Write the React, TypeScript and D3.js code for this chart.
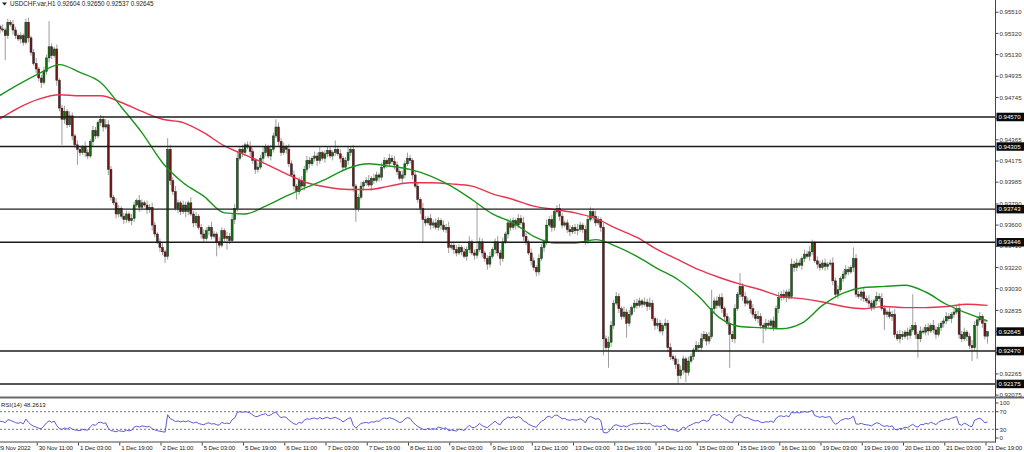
import React from "react";
import * as d3 from "d3";

// ---------- DATA (prices in pips above 0.9000, i.e. 538 -> 0.9538) ----------
const BASE = 0.9;
const firstOpenPips = 540;
const closePips = [
  538, 536, 535, 530, 542, 540, 535, 530, 527, 530,
  524, 542, 528, 515, 505, 500, 492, 488, 498, 510,
  520, 512, 518, 490, 465, 455, 462, 450, 458, 440,
  432, 428, 425, 430, 425, 422, 435, 445, 440, 452,
  455, 448, 450, 410, 385, 380, 370, 375, 368, 365,
  370, 364, 366, 378, 382, 376, 380, 378, 374, 376,
  360, 352, 345, 340, 336, 332, 428, 400, 390, 375,
  380, 372, 378, 372, 380, 370, 362, 368, 358, 352,
  348, 355, 358, 350, 352, 345, 342, 355, 348, 350,
  346, 365, 375, 420, 428, 425, 432, 430, 426, 418,
  410, 412, 420, 425, 430, 422, 428, 440, 448, 435,
  425, 430, 428, 415, 405, 395, 390, 400, 395, 410,
  418, 415, 420, 422, 418, 425, 420, 424, 427, 422,
  425, 428, 424, 420, 412, 418, 425, 428, 395, 375,
  385, 395, 398, 400, 396, 402, 400, 405, 403, 412,
  418, 415, 420, 417, 414, 408, 402, 405, 415, 420,
  418, 405, 395, 383, 375, 365, 362, 366, 360, 362,
  358, 364, 360, 356, 358, 340, 342, 338, 335, 340,
  336, 332, 338, 345, 335, 333, 338, 345, 335, 330,
  325, 332, 338, 345, 335, 330, 345, 352, 362, 358,
  364, 360, 366, 362, 350, 345, 335, 328, 322, 318,
  330, 340, 345, 360, 365, 358, 372, 375, 368, 360,
  362, 356, 354, 358, 355, 356, 360, 356, 346, 365,
  372, 368, 362, 365, 358, 258, 250, 255, 270, 290,
  296, 285, 278, 282, 272, 280, 286, 290, 288, 292,
  289, 291, 287, 290, 276, 270, 272, 265, 270, 272,
  250, 242, 240, 235, 225, 230, 240, 228, 238, 242,
  248, 252, 250, 258, 262, 256, 260, 285, 292, 288,
  295, 285, 278, 272, 262, 258, 285, 298, 305, 296,
  290, 292, 285, 280, 276, 278, 270, 268, 272, 270,
  274, 268, 285, 295, 298, 295, 300, 296, 325, 322,
  326, 324, 330, 334, 332, 336, 344, 328, 325, 322,
  326, 323, 325, 326, 310, 298, 302, 312, 316, 320,
  318, 322, 330, 298, 296, 300, 294, 292, 290, 286,
  292, 296, 294, 285, 280, 282, 278, 280, 262, 258,
  262, 260, 264, 261, 266, 270, 262, 258, 265, 264,
  268, 265, 270, 266, 262, 268, 272, 274, 278, 276,
  280, 282, 285, 262, 258, 264, 260, 252, 250, 270,
  275, 278, 272, 260.4, 264.5,
];
const wickUpPips = [
  3, 2, 4, 2, 3, 2, 4, 3, 2, 3,
  2, 3, 4, 2, 3, 5, 2, 3, 4, 3,
  23, 3, 2, 4, 2, 3, 5, 2, 4, 3,
  2, 4, 3, 2, 5, 3, 2, 4, 3, 2,
  4, 3, 5, 4, 3, 2, 4, 3, 2, 3,
  3, 2, 4, 3, 2, 5, 3, 2, 4, 3,
  4, 3, 2, 3, 4, 2, 10, 4, 3, 5,
  3, 2, 4, 3, 2, 5, 3, 4, 2, 3,
  4, 3, 2, 5, 3, 2, 4, 3, 2, 4,
  3, 5, 4, 6, 3, 4, 2, 3, 5, 3,
  2, 4, 3, 5, 3, 2, 4, 3, 7, 4,
  3, 4, 2, 5, 3, 4, 2, 3, 4, 3,
  4, 3, 2, 4, 3, 5, 2, 3, 4, 3,
  2, 8, 3, 4, 2, 3, 5, 3, 4, 2,
  3, 4, 2, 3, 5, 2, 4, 3, 2, 4,
  3, 2, 4, 3, 5, 3, 2, 4, 3, 5,
  3, 2, 4, 3, 2, 5, 3, 2, 4, 3,
  4, 3, 2, 4, 3, 5, 2, 3, 4, 3,
  2, 4, 3, 5, 2, 3, 42, 4, 3, 2,
  3, 4, 2, 3, 5, 3, 4, 2, 3, 4,
  3, 2, 4, 3, 5, 3, 2, 4, 3, 2,
  4, 3, 2, 5, 3, 4, 2, 3, 4, 3,
  2, 3, 4, 2, 3, 5, 3, 2, 4, 3,
  4, 3, 5, 3, 2, 4, 3, 5, 4, 3,
  4, 3, 2, 5, 3, 4, 2, 3, 4, 3,
  2, 4, 3, 5, 3, 2, 4, 3, 2, 4,
  3, 4, 2, 3, 5, 4, 3, 2, 4, 3,
  2, 4, 3, 5, 3, 2, 4, 17, 3, 4,
  3, 4, 2, 3, 5, 3, 4, 2, 12, 3,
  4, 3, 2, 4, 3, 5, 3, 2, 4, 3,
  2, 4, 3, 5, 3, 4, 2, 3, 5, 3,
  4, 3, 2, 4, 3, 5, 3, 2, 4, 3,
  3, 4, 2, 3, 5, 3, 4, 2, 3, 4,
  3, 2, 10, 4, 3, 2, 4, 3, 5, 3,
  2, 4, 3, 5, 3, 2, 4, 3, 5, 3,
  4, 3, 2, 4, 3, 28, 3, 2, 4, 3,
  3, 4, 2, 5, 3, 4, 2, 3, 4, 3,
  2, 4, 3, 5, 3, 4, 2, 3, 5, 4,
  3, 4, 2, 3, 0.5,
];
const wickDownPips = [
  3, 4, 2, 22, 3, 2, 4, 3, 2, 4,
  3, 2, 4, 3, 2, 4, 3, 5, 2, 3,
  4, 3, 2, 5, 3, 23, 4, 3, 2, 4,
  3, 14, 3, 2, 4, 3, 2, 4, 3, 2,
  3, 4, 2, 5, 3, 2, 4, 3, 2, 4,
  3, 2, 4, 3, 2, 4, 3, 2, 4, 3,
  5, 3, 2, 4, 3, 6, 3, 4, 3, 2,
  4, 3, 2, 5, 3, 2, 4, 3, 2, 4,
  3, 2, 4, 3, 2, 13, 3, 2, 4, 10,
  3, 2, 4, 3, 2, 4, 3, 2, 4, 3,
  4, 3, 2, 5, 3, 2, 4, 3, 2, 4,
  3, 2, 4, 3, 2, 4, 7, 3, 2, 4,
  3, 4, 2, 3, 5, 3, 2, 4, 3, 2,
  4, 3, 2, 4, 3, 2, 4, 3, 5, 12,
  3, 2, 4, 3, 2, 5, 3, 2, 4, 3,
  2, 4, 3, 2, 4, 3, 2, 4, 3, 2,
  3, 4, 2, 3, 5, 21, 3, 2, 4, 3,
  2, 3, 4, 2, 3, 5, 2, 4, 3, 2,
  3, 2, 4, 3, 2, 4, 3, 2, 4, 3,
  5, 3, 2, 4, 3, 6, 3, 2, 4, 3,
  2, 4, 3, 2, 4, 3, 2, 4, 3, 4,
  3, 2, 4, 3, 2, 4, 3, 2, 4, 3,
  2, 3, 4, 2, 3, 4, 2, 3, 4, 3,
  2, 4, 3, 2, 4, 15, 3, 18, 4, 3,
  2, 4, 3, 2, 13, 3, 2, 4, 3, 2,
  3, 2, 4, 3, 2, 4, 3, 2, 4, 3,
  4, 3, 2, 4, 7, 3, 4, 9, 3, 2,
  3, 2, 4, 3, 2, 4, 3, 2, 4, 3,
  2, 4, 3, 2, 30, 3, 4, 2, 3, 4,
  3, 2, 4, 3, 2, 4, 3, 14, 3, 2,
  4, 3, 2, 4, 3, 2, 4, 3, 2, 4,
  3, 2, 4, 3, 2, 4, 3, 2, 4, 3,
  2, 4, 3, 2, 4, 3, 4, 2, 3, 4,
  3, 2, 4, 3, 2, 4, 3, 2, 4, 3,
  2, 4, 3, 2, 14, 3, 2, 4, 3, 2,
  4, 3, 2, 4, 3, 2, 4, 17, 3, 2,
  3, 4, 2, 3, 4, 2, 3, 4, 3, 2,
  4, 3, 2, 4, 3, 2, 4, 3, 12, 3,
  30, 2, 4, 3, 6.7,
];

// moving averages: [bar index, pips]
const fastMA: [number, number][] = [
  [0, 475], [8, 486], [16, 496], [24, 504], [32, 497], [40, 488], [48, 466], [56, 443],
  [64, 416], [72, 398], [80, 386], [88, 371], [96, 370], [104, 377], [112, 386], [120, 394],
  [128, 402], [136, 411], [144, 415], [152, 413], [160, 410], [168, 404], [176, 395], [184, 383],
  [192, 370], [200, 362], [208, 350], [216, 344], [224, 344], [232, 347], [240, 341], [248, 332],
  [256, 321], [264, 311], [272, 296], [280, 277], [288, 269], [296, 268], [304, 267], [312, 272],
  [320, 288], [328, 299], [336, 304], [344, 305], [352, 306], [360, 300], [368, 289], [376, 281],
  [384, 274],
];
const slowMA: [number, number][] = [
  [0, 454], [8, 465], [16, 473], [24, 477], [32, 476], [40, 476], [48, 470], [56, 462],
  [64, 455], [72, 452], [80, 443], [88, 431], [96, 423], [104, 415], [112, 406], [120, 398],
  [128, 394], [136, 392], [144, 392], [152, 395], [160, 398], [168, 398], [176, 397], [184, 395],
  [192, 388], [200, 383], [208, 377], [216, 374], [224, 371], [232, 366], [240, 357], [248, 349],
  [256, 338], [264, 329], [272, 320], [280, 313], [288, 307], [296, 302], [304, 296], [312, 294],
  [320, 291], [328, 287], [336, 285], [344, 287], [352, 286], [360, 286], [368, 287], [376, 289],
  [384, 288],
];

const levels = [0.9457, 0.94305, 0.93743, 0.93446, 0.9247, 0.92175];
const lastPrice = 0.92645;
const priceTicks = [
  0.9551, 0.9532, 0.9513, 0.94935, 0.94745, 0.94555, 0.94365, 0.94175, 0.93985, 0.9379,
  0.936, 0.9341, 0.9322, 0.9303, 0.92835, 0.92645, 0.92455, 0.92265, 0.92075,
];
const timeLabels = [
  "29 Nov 2022", "30 Nov 11:00", "1 Dec 03:00", "1 Dec 19:00", "2 Dec 11:00", "5 Dec 03:00",
  "5 Dec 19:00", "6 Dec 11:00", "7 Dec 03:00", "7 Dec 19:00", "8 Dec 11:00", "9 Dec 03:00",
  "9 Dec 19:00", "12 Dec 11:00", "13 Dec 03:00", "13 Dec 19:00", "14 Dec 11:00", "15 Dec 03:00",
  "15 Dec 19:00", "16 Dec 11:00", "19 Dec 03:00", "19 Dec 19:00", "20 Dec 11:00", "21 Dec 03:00",
  "21 Dec 19:00",
];
const timeLabelStep = 16;
const rsiPeriod = 14;
const rsiSeedPips = 4; // average gain/loss assumed before the first visible bar
const rsiLevels = [70, 30];
const rsiTicks = [100, 70, 30, 0];
const headerText = "USDCHF.var,H1  0.92604 0.92650 0.92537 0.92645";
const rsiTitle = "RSI(14) 48.2613";

// ---------- CHART ----------
const W = 1024;
const H = 452;
const PLOT_R = 995;
const MAIN_BOTTOM = 397;
const RSI_TOP = 398.5;
const RSI_BOTTOM = 442.5;
const FONT = "'Liberation Sans', Arial, sans-serif";
const FS = 6.1;

const px = (p: number) => BASE + p / 10000;

export default function App() {
  const n = closePips.length;
  const x = d3.scaleLinear().domain([0, n - 1]).range([-2.5, 987.5]);
  const y = d3.scaleLinear().domain([0.92075, 0.9551]).range([395.1, 12.2]);
  const ry = d3.scaleLinear().domain([0, 100]).range([RSI_BOTTOM, RSI_TOP]);

  const candles = closePips.map((c, i) => {
    const o = i === 0 ? firstOpenPips : closePips[i - 1];
    const hi = Math.max(o, c) + wickUpPips[i];
    const lo = Math.min(o, c) - wickDownPips[i];
    return { i, o: px(o), c: px(c), h: px(hi), l: px(lo) };
  });

  // RSI(14), Wilder smoothing
  const rsi: [number, number][] = [];
  let ag = rsiSeedPips;
  let al = rsiSeedPips;
  for (let i = 0; i < n; i++) {
    const prev = i === 0 ? firstOpenPips : closePips[i - 1];
    const ch = closePips[i] - prev;
    const g = Math.max(ch, 0);
    const l = Math.max(-ch, 0);
    ag = (ag * (rsiPeriod - 1) + g) / rsiPeriod;
    al = (al * (rsiPeriod - 1) + l) / rsiPeriod;
    const v = al === 0 ? 100 : 100 - 100 / (1 + ag / al);
    rsi.push([i, v]);
  }

  const maLine = d3
    .line<[number, number]>()
    .x((d) => x(d[0]))
    .y((d) => y(px(d[1])))
    .curve(d3.curveMonotoneX);
  const rsiLine = d3
    .line<[number, number]>()
    .x((d) => x(d[0]))
    .y((d) => ry(d[1]));

  const boxH = 8.5;

  return (
    <svg
      width={W}
      height={H}
      style={{ position: "absolute", left: 0, top: 0, background: "#fff" }}
      fontFamily={FONT}
    >
      <defs>
        <clipPath id="mainClip">
          <rect x={0} y={0} width={PLOT_R} height={MAIN_BOTTOM - 0.5} />
        </clipPath>
        <clipPath id="rsiClip">
          <rect x={0} y={RSI_TOP} width={PLOT_R} height={RSI_BOTTOM - RSI_TOP} />
        </clipPath>
      </defs>
      <rect x={0} y={0} width={W} height={H} fill="#fff" />

      {/* main panel */}
      <g clipPath="url(#mainClip)">
        {candles.map((d) => {
          const up = d.c >= d.o;
          const top = y(Math.max(d.o, d.c));
          const bot = y(Math.min(d.o, d.c));
          const cx = x(d.i);
          return (
            <g key={d.i}>
              <line x1={cx} x2={cx} y1={y(d.h)} y2={y(d.l)} stroke="#9d9d9d" strokeWidth={1} />
              <rect
                x={cx - 1}
                y={top}
                width={2}
                height={Math.max(bot - top, 0.8)}
                fill={up ? "#0c6e0c" : "#751414"}
                stroke="#2b2b2b"
                strokeWidth={0.5}
              />
            </g>
          );
        })}
        <path d={maLine(slowMA) || ""} fill="none" stroke="#e8344f" strokeWidth={1.4} />
        <path d={maLine(fastMA) || ""} fill="none" stroke="#18961b" strokeWidth={1.4} />
        {levels.map((lv) => (
          <line key={lv} x1={0} x2={PLOT_R} y1={y(lv)} y2={y(lv)} stroke="#1c1c1c" strokeWidth={1.4} />
        ))}
      </g>

      {/* header */}
      <path d="M2,2.5 L7,2.5 L4.5,5.5 Z" fill="#222" />
      <text x={10} y={6.3} fontSize={6.3} fill="#222">
        {headerText}
      </text>

      {/* price axis */}
      <line x1={PLOT_R + 0.5} x2={PLOT_R + 0.5} y1={0} y2={RSI_BOTTOM} stroke="#444" strokeWidth={1} />
      {priceTicks.map((t) => (
        <g key={t}>
          <line x1={PLOT_R} x2={PLOT_R + 3.5} y1={y(t)} y2={y(t)} stroke="#444" strokeWidth={1} />
          <text x={999.5} y={y(t) + 2.2} fontSize={FS} fill="#333">
            {t.toFixed(5)}
          </text>
        </g>
      ))}
      {[...levels, lastPrice].map((lv) => (
        <g key={"b" + lv}>
          <rect x={996.5} y={y(lv) - boxH / 2} width={27.5} height={boxH} fill="#0a0a0a" />
          <text x={998.5} y={y(lv) + 2.2} fontSize={FS} fill="#fff">
            {lv.toFixed(5)}
          </text>
        </g>
      ))}

      {/* separator */}
      <line x1={0} x2={W} y1={MAIN_BOTTOM + 0.5} y2={MAIN_BOTTOM + 0.5} stroke="#6a6a6a" strokeWidth={2} />

      {/* RSI panel */}
      <text x={1} y={406.5} fontSize={FS} fill="#222">
        {rsiTitle}
      </text>
      {rsiLevels.map((lv) => (
        <line
          key={lv}
          x1={0}
          x2={PLOT_R}
          y1={ry(lv)}
          y2={ry(lv)}
          stroke="#555"
          strokeWidth={0.8}
          strokeDasharray="2,2"
        />
      ))}
      <g clipPath="url(#rsiClip)">
        <path d={rsiLine(rsi) || ""} fill="none" stroke="#5a5ad2" strokeWidth={1} />
      </g>
      {rsiTicks.map((t) => {
        const ty = Math.min(Math.max(ry(t), 403), 438);
        return (
          <g key={t}>
            <line x1={PLOT_R} x2={PLOT_R + 3.5} y1={ty} y2={ty} stroke="#444" strokeWidth={1} />
            <text x={999.5} y={ty + 2.2} fontSize={FS} fill="#333">
              {t}
            </text>
          </g>
        );
      })}

      {/* time axis */}
      <line x1={0} x2={PLOT_R + 1} y1={RSI_BOTTOM - 0.5} y2={RSI_BOTTOM - 0.5} stroke="#444" strokeWidth={1} />
      {timeLabels.map((lab, k) => {
        const bx = x(k * timeLabelStep);
        return (
          <g key={lab}>
            <line x1={bx - 1.5} x2={bx - 1.5} y1={RSI_BOTTOM} y2={RSI_BOTTOM + 3} stroke="#444" strokeWidth={1} />
            <text x={bx} y={450} fontSize={FS} letterSpacing={-0.15} fill="#222">
              {lab}
            </text>
          </g>
        );
      })}
    </svg>
  );
}
